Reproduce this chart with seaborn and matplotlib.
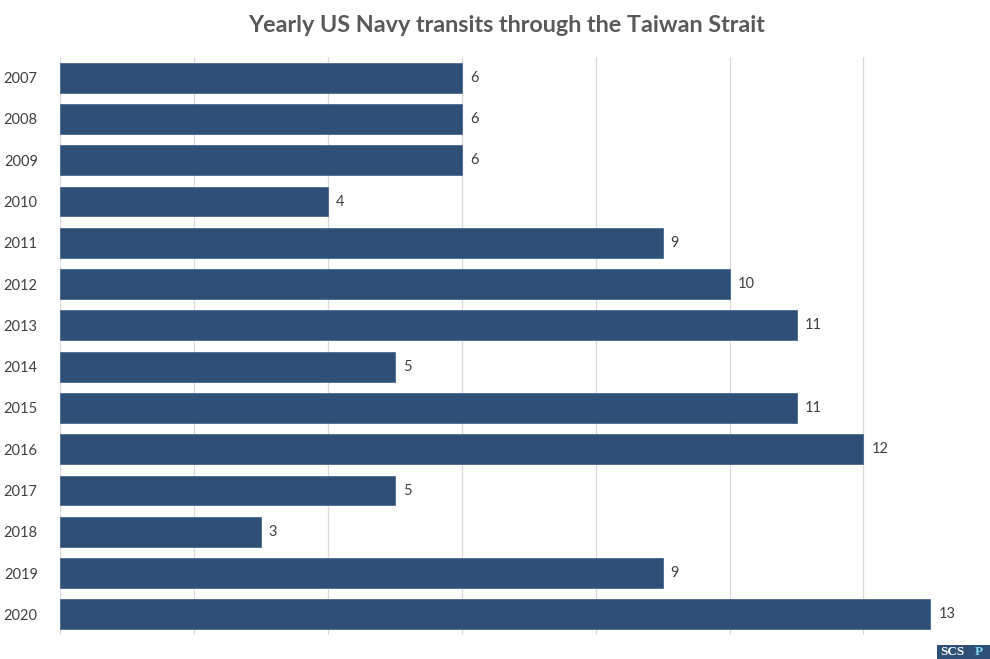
import matplotlib
matplotlib.use("Agg")
import matplotlib.pyplot as plt
import matplotlib.patches as mpatches
import seaborn as sns
import pandas as pd

years = ["2007", "2008", "2009", "2010", "2011", "2012", "2013", "2014",
         "2015", "2016", "2017", "2018", "2019", "2020"]
transits = [6, 6, 6, 4, 9, 10, 11, 5, 11, 12, 5, 3, 9, 13]
title = "Yearly US Navy transits through the Taiwan Strait"

df = pd.DataFrame({"year": years, "transits": transits})

sns.set_theme(style="white")
plt.rcParams["font.family"] = ["Lato", "DejaVu Sans"]

fig = plt.figure(figsize=(9.9, 6.59), dpi=100)
ax = fig.add_axes([60/990, 1 - 635/659, 1 - 60/990, (635 - 57)/659])

sns.barplot(data=df, y="year", x="transits", orient="h", color="#2E5077",
            width=0.72, saturation=1, ax=ax, edgecolor="#4a6a90", linewidth=0.6,
            zorder=3)

ax.set_xlim(0, 13.89)
ax.set_ylim(13.5, -0.5)
for x in [0, 2, 4, 6, 8, 10, 12]:
    ax.axvline(x, color="#d9d9d9", lw=0.9, zorder=0)
for s in ax.spines.values():
    s.set_visible(False)
ax.set_xticks([])
ax.set_xlabel("")
ax.set_ylabel("")
ax.tick_params(axis="y", length=0, pad=16, labelsize=10.5, labelcolor="#404040")

for i, v in enumerate(transits):
    ax.text(v + 0.12, i, str(v), va="center", ha="left", fontsize=10.5, color="#404040")

fig.text(507/990, 1 - 25/659, title, ha="center", va="center",
         fontsize=16.8, fontweight="bold", color="#595959")

# SCSP logo
fig.patches.append(mpatches.Rectangle((937/990, 0), 53/990, 14/659,
                                      transform=fig.transFigure, fc="#2E5077",
                                      ec="none", zorder=5))
fig.text(940/990, 1/659, "SCS", ha="left", va="bottom", fontsize=9.5,
         fontweight="bold", color="white", family="Liberation Serif", zorder=6)
fig.text(975/990, 1/659, "P", ha="left", va="bottom", fontsize=9.5,
         fontweight="bold", color="#7fd8ee", family="Liberation Serif", zorder=6)

fig.savefig("out.png", dpi=100)
